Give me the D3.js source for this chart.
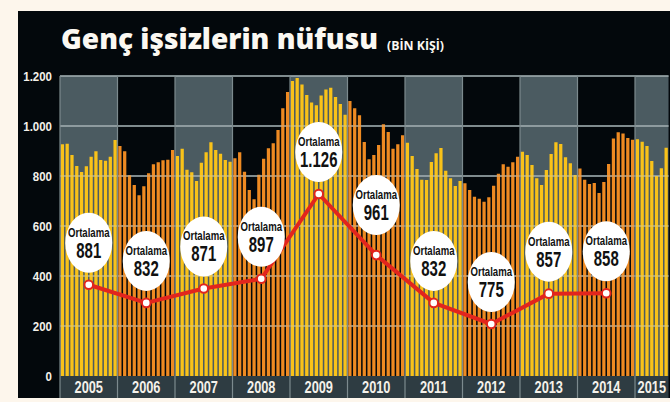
<!DOCTYPE html>
<html>
<head>
<meta charset="utf-8">
<script src="https://cdn.jsdelivr.net/npm/d3@7"></script>
<style>
  body { margin: 0; background: #fdf6ec; }
  svg { display: block; }
</style>
</head>
<body>
<svg id="chart" width="670" height="402"></svg>
<script>
// chart data (bin kişi)
const years = ["2005", "2006", "2007", "2008", "2009", "2010", "2011", "2012", "2013", "2014", "2015"];
const averages = [881, 832, 871, 897, 1126, 961, 832, 775, 857, 858];
const monthly = [
  [927, 929, 884, 840, 816, 839, 877, 899, 864, 861, 877, 944],
  [920, 899, 803, 764, 723, 759, 811, 847, 855, 863, 865, 904],
  [880, 909, 825, 815, 780, 853, 895, 935, 904, 889, 864, 857],
  [871, 895, 817, 744, 707, 805, 869, 911, 931, 984, 1071, 1136],
  [1180, 1192, 1166, 1124, 1094, 1083, 1122, 1146, 1153, 1116, 1088, 1045],
  [1100, 1071, 1043, 936, 867, 884, 924, 1007, 976, 909, 927, 963],
  [933, 880, 828, 785, 784, 856, 891, 912, 821, 791, 760, 780],
  [771, 744, 717, 709, 697, 715, 761, 809, 847, 837, 855, 877],
  [897, 884, 844, 791, 764, 824, 888, 935, 928, 875, 851, 804],
  [830, 785, 768, 772, 732, 776, 848, 950, 975, 970, 952, 945],
  [947, 937, 920, 860, 800, 831, 913]
];
const yTicks = [0, 200, 400, 600, 800, 1000, 1200];

const svg = d3.select("#chart");
const fmt = d3.formatLocale({decimal: ",", thousands: ".", grouping: [3], currency: ["", ""]}).format(",");

// no narrow font installed: squeeze Liberation Sans bold horizontally
const cond = "'Liberation Sans', Arial, sans-serif";
const slate = "#4b5b61", black = "#03080c";

const bars = [];
monthly.forEach((vals, k) => vals.forEach(v => bars.push({k: k, v: v})));
bars.forEach((d, i) => d.i = i);

const plotLeft = 60, plotTop = 76, plotBottom = 376, bandBottom = 398;
const slotW = 57.5 / 12;

const x = d3.scaleBand()
    .domain(d3.range(bars.length))
    .range([plotLeft, plotLeft + bars.length * slotW])
    .padding(0);
const bw = x.bandwidth();
const plotRight = x.range()[1];

const y = d3.scaleLinear().domain([0, 1200]).range([plotBottom, plotTop]);
// the average line uses its own (decorative) scale
const avgY = d3.scaleLinear().domain([775, 1126]).range([324, 194]);

const colStart = k => x(12 * k);
const colEnd = k => x(Math.min(12 * k + 12, bars.length) - 1) + bw;
const colMid = k => (colStart(k) + colEnd(k)) / 2;

// dark panel
svg.append("rect")
    .attr("x", 18).attr("y", 11)
    .attr("width", 670 - 18).attr("height", bandBottom - 11)
    .attr("fill", black);

// title
svg.append("text")
    .attr("x", 61).attr("y", 49)
    .attr("textLength", 317).attr("lengthAdjust", "spacingAndGlyphs")
    .style("font-family", "'Open Sans', sans-serif")
    .style("font-weight", "800")
    .style("font-size", "29px")
    .attr("fill", "#fbf8f2")
    .text("Genç işsizlerin nüfusu");

svg.append("text")
    .attr("x", 387).attr("y", 50)
    .attr("textLength", 57).attr("lengthAdjust", "spacingAndGlyphs")
    .style("font-family", "'Open Sans', sans-serif")
    .style("font-weight", "bold")
    .style("font-size", "12.5px")
    .attr("fill", "#fbf8f2")
    .text("(BİN KİŞİ)");

// year columns
svg.append("g")
    .selectAll("rect")
    .data(years)
    .join("rect")
    .attr("x", (d, k) => colStart(k))
    .attr("y", plotTop)
    .attr("width", (d, k) => colEnd(k) - colStart(k))
    .attr("height", plotBottom - plotTop)
    .attr("fill", (d, k) => k % 2 === 0 ? slate : black);

// gridlines under the bars
svg.append("g")
    .selectAll("line")
    .data(yTicks.filter(t => t > 0))
    .join("line")
    .attr("x1", plotLeft).attr("x2", plotRight)
    .attr("y1", d => y(d)).attr("y2", d => y(d))
    .attr("stroke", "#8e9ca0")
    .attr("stroke-width", 1.4);

// monthly bars
svg.append("g")
    .selectAll("rect")
    .data(bars)
    .join("rect")
    .attr("x", d => x(d.i) + bw * 0.16)
    .attr("y", d => y(d.v))
    .attr("width", bw * 0.68)
    .attr("height", d => y(0) - y(d.v))
    .attr("fill", d => d.k % 2 === 0 ? "#f9c219" : "#ee8a22");

// gridlines again, faint, over the bars
svg.append("g")
    .selectAll("line")
    .data(yTicks.filter(t => t > 0))
    .join("line")
    .attr("x1", plotLeft).attr("x2", plotRight)
    .attr("y1", d => y(d)).attr("y2", d => y(d))
    .attr("stroke", "#c9d2d4")
    .attr("stroke-width", 1.2)
    .attr("opacity", 0.45);

// year band
svg.append("rect")
    .attr("x", plotLeft).attr("y", plotBottom)
    .attr("width", plotRight - plotLeft).attr("height", bandBottom - plotBottom)
    .attr("fill", "#2e3c42");

// column separators
svg.append("g")
    .selectAll("line")
    .data(years)
    .join("line")
    .attr("x1", (d, k) => colStart(k)).attr("x2", (d, k) => colStart(k))
    .attr("y1", plotTop).attr("y2", bandBottom)
    .attr("stroke", "#7c8a8e")
    .attr("stroke-width", 1.2);

svg.append("g")
    .selectAll("text")
    .data(years)
    .join("text")
    .attr("transform", (d, k) => `translate(${colMid(k)},393) scale(0.8,1)`)
    .attr("text-anchor", "middle")
    .style("font-family", cond)
    .style("font-weight", "bold")
    .style("font-size", "16px")
    .attr("fill", "#f4f1ea")
    .text(d => d);

// y axis labels
svg.append("g")
    .selectAll("text")
    .data(yTicks)
    .join("text")
    .attr("transform", d => `translate(52,${y(d)}) scale(0.85,1)`)
    .attr("dy", "0.36em")
    .attr("text-anchor", "end")
    .style("font-family", cond)
    .style("font-weight", "bold")
    .style("font-size", "13.5px")
    .attr("fill", "#f4f1ea")
    .text(d => fmt(d));

// average line
const line = d3.line()
    .x((d, k) => colMid(k))
    .y(d => avgY(d));

svg.append("path")
    .datum(averages)
    .attr("d", line)
    .attr("fill", "none")
    .attr("stroke", "#e2251d")
    .attr("stroke-width", 4)
    .attr("stroke-linejoin", "round");

svg.append("g")
    .selectAll("circle")
    .data(averages)
    .join("circle")
    .attr("cx", (d, k) => colMid(k))
    .attr("cy", d => avgY(d))
    .attr("r", 4.3)
    .attr("fill", "#ffffff")
    .attr("stroke", "#e2251d")
    .attr("stroke-width", 2);

// bubbles with the yearly average
const bubbles = svg.append("g")
    .selectAll("g")
    .data(averages)
    .join("g")
    .attr("transform", (d, k) => {
        const lift = years[k] === "2010" ? 50 : 42;
        return `translate(${colMid(k)},${avgY(d) - lift})`;
    });

bubbles.append("ellipse")
    .attr("rx", 23.5).attr("ry", 30)
    .attr("fill", "#ffffff");

bubbles.append("text")
    .attr("transform", "translate(0,-6) scale(0.8,1)")
    .attr("text-anchor", "middle")
    .style("font-family", cond)
    .style("font-weight", "bold")
    .style("font-size", "12px")
    .attr("fill", "#111")
    .text("Ortalama");

bubbles.append("text")
    .attr("transform", "translate(0,15) scale(0.68,1)")
    .attr("text-anchor", "middle")
    .style("font-family", cond)
    .style("font-weight", "bold")
    .style("font-size", "22px")
    .attr("fill", "#111")
    .text(d => fmt(d));
</script>
</body>
</html>
